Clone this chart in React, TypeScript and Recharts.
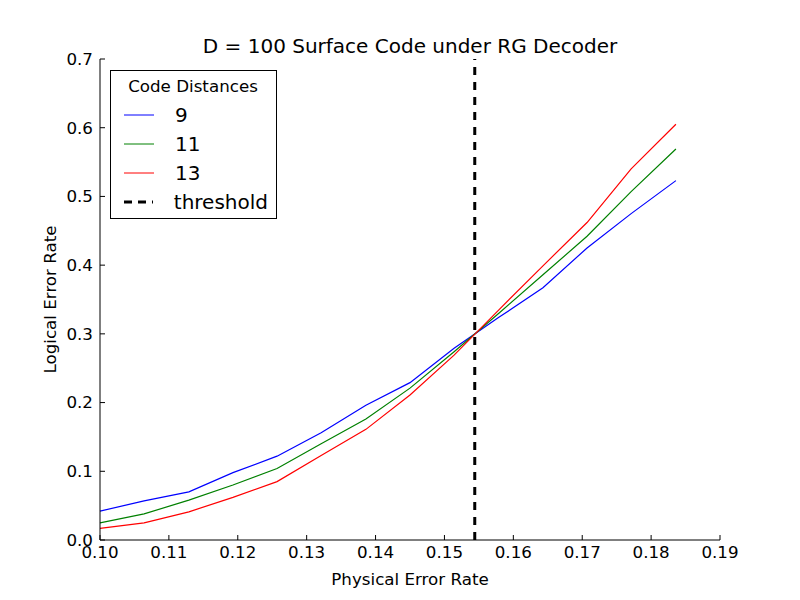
import { Legend, Line, LineChart, ReferenceLine, XAxis, YAxis } from "recharts";

const physicalRates = [
  0.1, 0.1064, 0.1129, 0.1193, 0.1257, 0.1321, 0.1386, 0.145, 0.1514, 0.1579, 0.1643, 0.1707,
  0.1771, 0.1836,
];
const d9 = [
  0.042, 0.057, 0.07, 0.098, 0.122, 0.156, 0.196, 0.229, 0.279, 0.324, 0.367, 0.425, 0.475,
  0.523,
];
const d11 = [
  0.025, 0.038, 0.058, 0.08, 0.104, 0.14, 0.176, 0.221, 0.274, 0.33, 0.386, 0.442, 0.507, 0.569,
];
const d13 = [
  0.017, 0.025, 0.041, 0.062, 0.085, 0.123, 0.161, 0.211, 0.269, 0.335, 0.399, 0.462, 0.54,
  0.605,
];
const threshold = 0.1544;

const xTicks = [0.1, 0.11, 0.12, 0.13, 0.14, 0.15, 0.16, 0.17, 0.18, 0.19];
const yTicks = [0, 0.1, 0.2, 0.3, 0.4, 0.5, 0.6, 0.7];

const series = [
  { key: "d9", label: "9", color: "#0000ff" },
  { key: "d11", label: "11", color: "#008000" },
  { key: "d13", label: "13", color: "#ff0000" },
];

const data = physicalRates.map((p, i) => ({ p, d9: d9[i], d11: d11[i], d13: d13[i] }));

const FONT = "'DejaVu Sans', sans-serif";
const tickStyle = { fill: "#000", fontSize: 16.7, fontFamily: FONT };
const labelStyle = { fill: "#000", fontSize: 16.7, fontFamily: FONT };

function LegendBox() {
  const rows = [
    ...series.map((s) => ({ label: s.label, color: s.color, dash: undefined as string | undefined, w: 1 })),
    { label: "threshold", color: "#000", dash: "8 6", w: 3 },
  ];
  return (
    <div
      style={{
        border: "1px solid #000",
        background: "#fff",
        padding: "5px 8px 2px 13px",
        fontFamily: FONT,
        width: 144,
      }}
    >
      <div style={{ fontSize: 16.7, textAlign: "center", marginBottom: 4, marginLeft: -6 }}>Code Distances</div>
      {rows.map((r) => (
        <div key={r.label} style={{ display: "flex", alignItems: "center", height: 29 }}>
          <svg width={30} height={10} style={{ marginRight: 21 }}>
            <line x1={0} y1={5} x2={30} y2={5} stroke={r.color} strokeWidth={r.w} strokeDasharray={r.dash} />
          </svg>
          <span style={{ fontSize: 20 }}>{r.label}</span>
        </div>
      ))}
    </div>
  );
}

export default function App() {
  return (
    <div style={{ position: "absolute", left: 0, top: 0, width: 800, height: 600, background: "#fff" }}>
      <div
        style={{
          position: "absolute",
          left: 100,
          width: 620,
          top: 34,
          textAlign: "center",
          fontFamily: FONT,
          fontSize: 20,
        }}
      >
        D = 100 Surface Code under RG Decoder
      </div>
      <LineChart width={800} height={600} data={data} margin={{ top: 59, right: 80, bottom: 0, left: 0 }}>
        <XAxis
          type="number"
          dataKey="p"
          domain={[0.1, 0.19]}
          ticks={xTicks}
          tickFormatter={(v: number) => v.toFixed(2)}
          height={60}
          tickSize={-5}
          tickMargin={11}
          tick={tickStyle}
          axisLine={{ stroke: "#000" }}
          tickLine={{ stroke: "#000" }}
          label={{ value: "Physical Error Rate", position: "center", dy: 9, style: labelStyle }}
        />
        <XAxis
          xAxisId="top"
          orientation="top"
          type="number"
          dataKey="p"
          domain={[0.1, 0.19]}
          ticks={xTicks}
          height={0}
          tickSize={-5}
          tick={false}
          axisLine={{ stroke: "#000" }}
          tickLine={{ stroke: "#000" }}
        />
        <YAxis
          domain={[0, 0.7]}
          ticks={yTicks}
          tickFormatter={(v: number) => v.toFixed(1)}
          width={100}
          tickSize={-5}
          tickMargin={12}
          tick={tickStyle}
          axisLine={{ stroke: "#000" }}
          tickLine={{ stroke: "#000" }}
          label={{ value: "Logical Error Rate", angle: -90, position: "center", dx: 0, style: labelStyle }}
        />
        <YAxis
          yAxisId="right"
          orientation="right"
          domain={[0, 0.7]}
          ticks={yTicks}
          width={0}
          tickSize={-5}
          tick={false}
          axisLine={{ stroke: "#000" }}
          tickLine={{ stroke: "#000" }}
        />
        {series.map((s) => (
          <Line
            key={s.key}
            type="linear"
            dataKey={s.key}
            stroke={s.color}
            strokeWidth={1.2}
            dot={false}
            isAnimationActive={false}
          />
        ))}
        <ReferenceLine x={threshold} stroke="#000" strokeWidth={3} strokeDasharray="8 7" />
        <Legend
          layout="vertical"
          align="center"
          verticalAlign="middle"
          wrapperStyle={{ left: 110, top: 70, width: "auto" }}
          content={() => <LegendBox />}
        />
      </LineChart>
    </div>
  );
}
